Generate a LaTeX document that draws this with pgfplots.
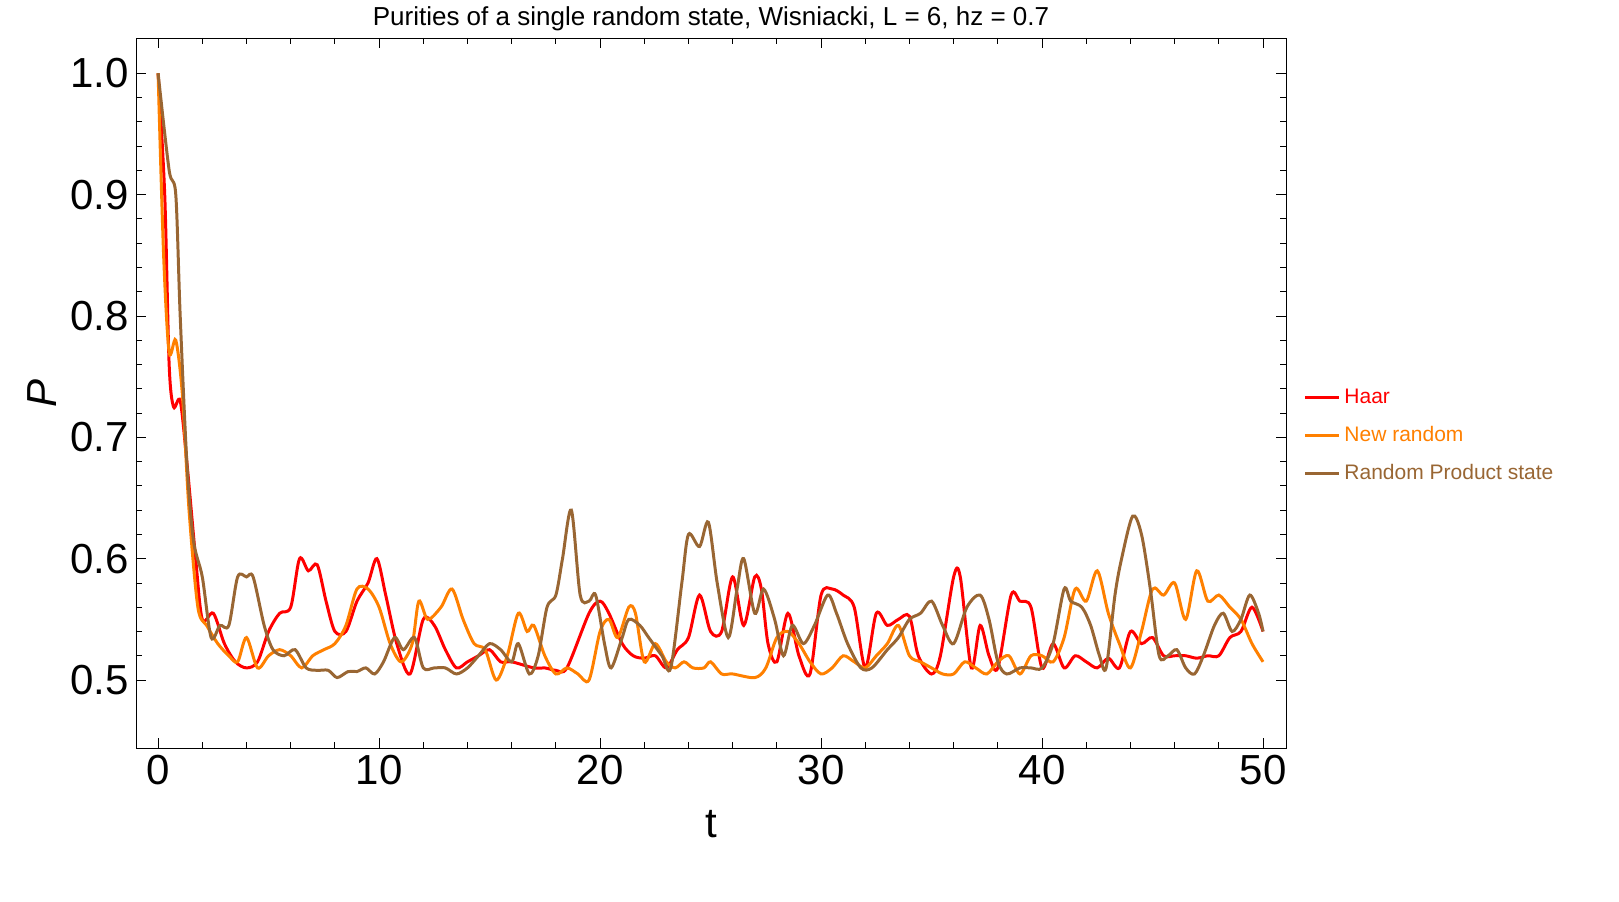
\documentclass[border=0pt]{standalone}
\usepackage{pgfplots}
\pgfplotsset{compat=1.18}
\usepackage{fontspec}
\setmainfont{Liberation Sans}
\definecolor{cHaar}{RGB}{255,0,0}
\definecolor{cNew}{RGB}{255,128,0}
\definecolor{cProd}{RGB}{153,102,51}
\begin{document}
\begin{tikzpicture}
\begin{axis}[name=ax, scale only axis, width=575bp, height=355bp,
 xmin=-1, xmax=51.04, ymin=0.444, ymax=1.029,
 xtick={0,10,20,30,40,50}, minor x tick num=4,
 ytick={0.5,0.6,0.7,0.8,0.9,1.0}, minor y tick num=4,
 yticklabel style={/pgf/number format/fixed,/pgf/number format/fixed zerofill,/pgf/number format/precision=1},
 /pgf/number format/assume math mode=true,
 ticklabel style={font=\fontsize{21bp}{24bp}\selectfont},
 tick style={black,thin}, major tick length=5bp, minor tick length=3bp,
 xlabel={t}, ylabel={\itshape P},
 xlabel style={yshift=-6bp},
 label style={font=\fontsize{21bp}{24bp}\selectfont},
 title={Purities of a single random state, Wisniacki, L = 6, hz = 0.7},
 title style={font=\fontsize{13bp}{15bp}\selectfont, yshift=-6bp},
 legend style={draw=none, at={(1.01,0.44)}, anchor=west, font=\fontsize{10.5bp}{12bp}\selectfont, row sep=6bp},
 legend image post style={line width=1.3pt},
 legend cell align=left,
 every axis plot/.append style={line width=1.5pt, smooth}]
\addplot[cHaar] coordinates {(0,1.0)(0.3,0.9)(0.5,0.76)(0.7,0.725)(1.0,0.73)(1.3,0.68)(1.7,0.6)(2.0,0.55)(2.5,0.555)(3.0,0.53)(3.5,0.515)(4.0,0.51)(4.5,0.515)(5.0,0.54)(5.5,0.555)(6.0,0.56)(6.4,0.6)(6.8,0.59)(7.2,0.595)(7.6,0.565)(8.0,0.54)(8.5,0.54)(9.0,0.565)(9.5,0.58)(9.9,0.6)(10.3,0.57)(10.8,0.53)(11.4,0.505)(12.0,0.55)(12.5,0.545)(13.0,0.525)(13.5,0.51)(14.0,0.515)(14.5,0.52)(15.0,0.525)(15.5,0.515)(16,0.515)(17,0.51)(17.5,0.51)(18,0.508)(18.5,0.51)(19.5,0.555)(20,0.565)(20.4,0.555)(21,0.53)(21.5,0.52)(22,0.518)(22.5,0.52)(23,0.51)(23.5,0.525)(24,0.535)(24.5,0.57)(25.0,0.54)(25.5,0.54)(26,0.585)(26.5,0.545)(27,0.585)(27.3,0.575)(27.6,0.53)(28,0.515)(28.5,0.555)(29,0.52)(29.5,0.505)(30,0.57)(30.5,0.575)(31,0.57)(31.5,0.56)(32,0.51)(32.5,0.555)(33,0.545)(33.5,0.55)(34,0.5525)(34.4,0.52)(35.0,0.505)(35.4,0.52)(36,0.585)(36.3,0.585)(36.8,0.51)(37.2,0.545)(37.6,0.52)(38.0,0.51)(38.6,0.57)(39,0.565)(39.5,0.56)(40,0.51)(40.5,0.53)(41,0.51)(41.5,0.52)(42,0.515)(42.5,0.51)(43,0.518)(43.5,0.51)(44,0.54)(44.5,0.53)(45,0.535)(45.5,0.52)(46,0.52)(46.5,0.52)(47,0.518)(47.5,0.52)(48,0.52)(48.5,0.535)(49,0.54)(49.5,0.56)(50,0.54)};
\addlegendentry{\textcolor{cHaar}{Haar}}
\addplot[cNew] coordinates {(0,1.0)(0.25,0.85)(0.5,0.77)(0.8,0.78)(1.1,0.735)(1.4,0.64)(1.8,0.56)(2.2,0.545)(2.7,0.53)(3.2,0.52)(3.6,0.515)(4.0,0.535)(4.5,0.51)(5.0,0.52)(5.5,0.525)(6.0,0.52)(6.5,0.51)(7.0,0.52)(7.5,0.525)(8.0,0.53)(8.5,0.545)(9.0,0.575)(9.5,0.575)(10,0.56)(10.5,0.53)(11,0.515)(11.5,0.53)(11.8,0.565)(12.2,0.55)(12.8,0.56)(13.3,0.575)(13.8,0.55)(14.3,0.53)(14.8,0.525)(15.3,0.5)(15.8,0.52)(16.3,0.555)(16.7,0.54)(17.0,0.545)(17.5,0.52)(18,0.505)(18.5,0.51)(19,0.505)(19.5,0.5)(20,0.54)(20.4,0.55)(20.8,0.535)(21.3,0.56)(21.6,0.555)(22.0,0.515)(22.5,0.53)(23,0.515)(23.4,0.51)(23.8,0.515)(24.2,0.51)(24.7,0.51)(25,0.515)(25.5,0.505)(26,0.505)(27,0.502)(27.5,0.51)(28,0.535)(28.5,0.54)(29,0.53)(29.5,0.515)(30,0.505)(30.5,0.51)(31,0.52)(31.5,0.515)(32,0.51)(32.5,0.52)(33,0.53)(33.5,0.545)(34,0.52)(34.5,0.515)(35,0.51)(35.5,0.505)(36,0.505)(36.5,0.515)(37,0.51)(37.5,0.505)(38,0.515)(38.5,0.52)(39,0.505)(39.5,0.52)(40,0.52)(40.5,0.515)(41,0.535)(41.5,0.575)(42,0.565)(42.5,0.59)(43,0.555)(43.5,0.53)(44,0.51)(44.5,0.54)(45,0.575)(45.5,0.57)(46,0.58)(46.5,0.55)(47,0.59)(47.5,0.565)(48,0.57)(48.5,0.56)(49,0.55)(49.5,0.53)(50,0.515)};
\addlegendentry{\textcolor{cNew}{New random}}
\addplot[cProd] coordinates {(0,1.0)(0.5,0.92)(0.8,0.9)(1.0,0.8)(1.3,0.68)(1.6,0.615)(2.0,0.585)(2.4,0.535)(2.8,0.545)(3.2,0.545)(3.6,0.585)(4.0,0.585)(4.3,0.585)(4.8,0.545)(5.2,0.525)(5.7,0.52)(6.2,0.525)(6.7,0.51)(7.2,0.508)(7.7,0.508)(8.1,0.502)(8.6,0.507)(9.0,0.507)(9.4,0.51)(9.8,0.505)(10.2,0.515)(10.7,0.535)(11.1,0.525)(11.6,0.535)(12,0.51)(12.5,0.51)(13,0.51)(13.5,0.505)(14,0.51)(14.5,0.52)(15,0.53)(15.5,0.525)(16,0.515)(16.3,0.53)(16.8,0.505)(17.2,0.52)(17.6,0.56)(18,0.57)(18.3,0.6)(18.7,0.64)(19.1,0.57)(19.5,0.565)(19.8,0.57)(20.2,0.53)(20.5,0.51)(21,0.535)(21.3,0.55)(21.8,0.545)(22.2,0.535)(22.8,0.52)(23.2,0.51)(23.7,0.58)(24.0,0.62)(24.5,0.61)(24.9,0.63)(25.3,0.58)(25.8,0.535)(26.2,0.575)(26.5,0.6)(27,0.555)(27.4,0.575)(27.9,0.55)(28.3,0.52)(28.7,0.545)(29.2,0.53)(29.7,0.545)(30.3,0.57)(30.7,0.555)(31.2,0.53)(31.8,0.51)(32.3,0.51)(33,0.525)(33.5,0.535)(34,0.55)(34.5,0.555)(35,0.565)(35.5,0.545)(36,0.53)(36.6,0.56)(37.2,0.57)(37.6,0.55)(38,0.515)(38.4,0.505)(39,0.51)(39.5,0.51)(40,0.51)(40.5,0.53)(41,0.575)(41.3,0.565)(41.8,0.56)(42.2,0.545)(42.6,0.52)(42.9,0.51)(43.3,0.57)(43.6,0.6)(44.1,0.635)(44.5,0.62)(44.9,0.575)(45.3,0.52)(45.7,0.52)(46.1,0.525)(46.5,0.51)(46.9,0.505)(47.3,0.52)(47.8,0.545)(48.2,0.555)(48.6,0.54)(49.0,0.55)(49.4,0.57)(49.8,0.555)(50,0.54)};
\addlegendentry{\textcolor{cProd}{Random Product state}}
\coordinate (sw) at (rel axis cs:0,0);
\coordinate (ne) at (rel axis cs:1,1);
\end{axis}
\pgfresetboundingbox
\path ([shift={(-68bp,-77bp)}]sw) rectangle ([shift={(166.5bp,19bp)}]ne);
\end{tikzpicture}
\end{document}
